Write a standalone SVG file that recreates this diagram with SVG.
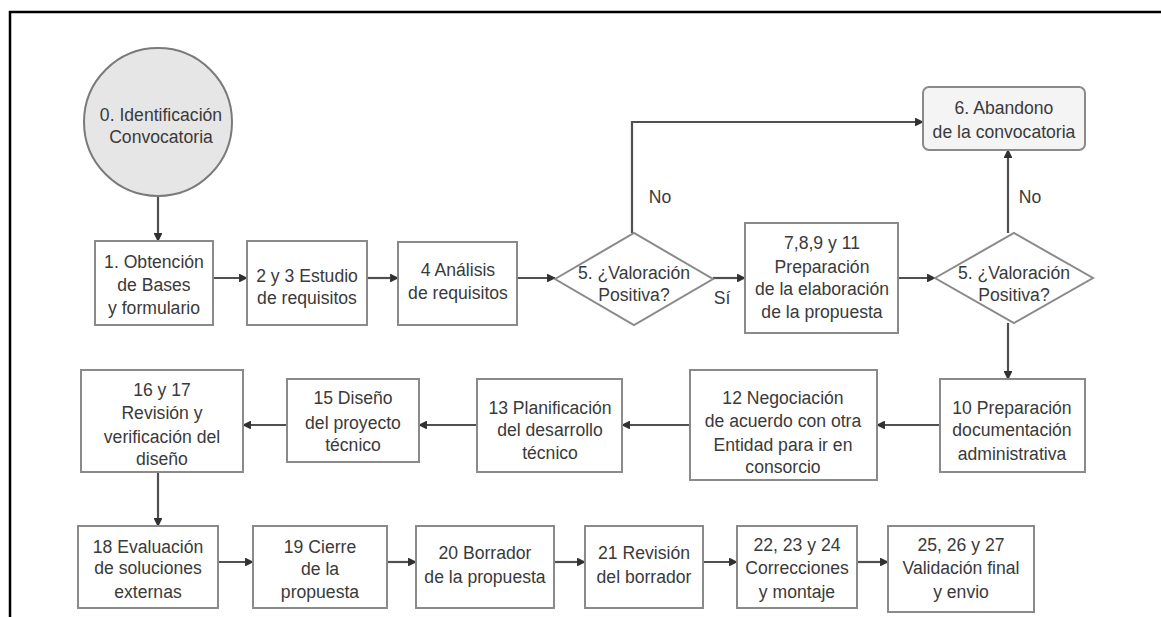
<svg xmlns="http://www.w3.org/2000/svg" width="1161" height="617" viewBox="0 0 1161 617">
<style>
.bx{fill:#fff;stroke:#8a8a8a;stroke-width:2}
.ln{fill:none;stroke:#505050;stroke-width:2.2}
text{font-family:"Liberation Sans",Arial,sans-serif;font-size:17.6px;fill:#3a3a3a;text-anchor:middle}
</style>
<defs>
<marker id="ah" viewBox="0 0 10 10" refX="9" refY="5" markerWidth="4" markerHeight="4" orient="auto" markerUnits="strokeWidth">
<path d="M0,0 L10,5 L0,10 z" fill="#303030"/>
</marker>
</defs>
<rect width="1161" height="617" fill="#fff"/>
<path d="M10,617 V12 H1161" fill="none" stroke="#000" stroke-width="2.5"/>

<g id="connectors">
<path class="ln" d="M158,197 V241" marker-end="url(#ah)"/>
<path class="ln" d="M213,278 H247" marker-end="url(#ah)"/>
<path class="ln" d="M367,278 H398" marker-end="url(#ah)"/>
<path class="ln" d="M517,278 H555" marker-end="url(#ah)"/>
<path class="ln" d="M632,233 V122 H923" marker-end="url(#ah)"/>
<path class="ln" d="M713,278 H745" marker-end="url(#ah)"/>
<path class="ln" d="M898,278 H935" marker-end="url(#ah)"/>
<path class="ln" d="M1008,233 V150" marker-end="url(#ah)"/>
<path class="ln" d="M1008,323 V379" marker-end="url(#ah)"/>
<path class="ln" d="M940,425 H877" marker-end="url(#ah)"/>
<path class="ln" d="M690,425 H622" marker-end="url(#ah)"/>
<path class="ln" d="M477,425 H419" marker-end="url(#ah)"/>
<path class="ln" d="M287,425 H243" marker-end="url(#ah)"/>
<path class="ln" d="M158,472 V526" marker-end="url(#ah)"/>
<path class="ln" d="M218,562 H253" marker-end="url(#ah)"/>
<path class="ln" d="M387,562 H416" marker-end="url(#ah)"/>
<path class="ln" d="M554,562 H585" marker-end="url(#ah)"/>
<path class="ln" d="M703,562 H737" marker-end="url(#ah)"/>
<path class="ln" d="M857,562 H888" marker-end="url(#ah)"/>
<text x="660" y="203">No</text>
<text x="722" y="304">Sí</text>
<text x="1030" y="203">No</text>
</g>

<g id="n0">
<circle cx="158" cy="122" r="74" fill="#e6e6e6" stroke="#7a7a7a" stroke-width="2"/>
<text x="161" y="121">0. Identificación</text>
<text x="161" y="143">Convocatoria</text>
</g>
<g id="n1">
<rect class="bx" x="95" y="241" width="118" height="84"/>
<text x="154" y="268">1. Obtención</text>
<text x="154" y="291">de Bases</text>
<text x="154" y="314">y formulario</text>
</g>
<g id="n2">
<rect class="bx" x="247" y="241" width="120" height="84"/>
<text x="307" y="282">2 y 3 Estudio</text>
<text x="307" y="304">de requisitos</text>
</g>
<g id="n4">
<rect class="bx" x="398" y="242" width="119" height="83"/>
<text x="458" y="276">4 Análisis</text>
<text x="458" y="299">de requisitos</text>
</g>
<g id="n5a">
<polygon class="bx" points="555,279 634,233 713,279 634,325"/>
<text x="634" y="279">5. ¿Valoración</text>
<text x="634" y="301">Positiva?</text>
</g>
<g id="n6">
<rect x="923" y="87" width="162" height="63" rx="6" fill="#f4f4f4" stroke="#8a8a8a" stroke-width="2"/>
<text x="1004" y="114">6. Abandono</text>
<text x="1004" y="138">de la convocatoria</text>
</g>
<g id="n7">
<rect class="bx" x="745" y="223" width="153" height="110"/>
<text x="822" y="249">7,8,9 y 11</text>
<text x="822" y="273">Preparación</text>
<text x="822" y="295">de la elaboración</text>
<text x="822" y="318">de la propuesta</text>
</g>
<g id="n5b">
<polygon class="bx" points="935,278 1014,233 1093,278 1014,323"/>
<text x="1014" y="279">5. ¿Valoración</text>
<text x="1014" y="301">Positiva?</text>
</g>
<g id="n10">
<rect class="bx" x="940" y="379" width="145" height="93"/>
<text x="1012" y="414">10 Preparación</text>
<text x="1012" y="436">documentación</text>
<text x="1012" y="460">administrativa</text>
</g>
<g id="n12">
<rect class="bx" x="690" y="370" width="187" height="110"/>
<text x="783" y="404">12 Negociación</text>
<text x="783" y="427">de acuerdo con otra</text>
<text x="783" y="451">Entidad para ir en</text>
<text x="783" y="473">consorcio</text>
</g>
<g id="n13">
<rect class="bx" x="477" y="379" width="145" height="93"/>
<text x="550" y="414">13 Planificación</text>
<text x="550" y="436">del desarrollo</text>
<text x="550" y="459">técnico</text>
</g>
<g id="n15">
<rect class="bx" x="287" y="379" width="132" height="83"/>
<text x="353" y="404">15 Diseño</text>
<text x="353" y="429">del proyecto</text>
<text x="353" y="451">técnico</text>
</g>
<g id="n16">
<rect class="bx" x="81" y="370" width="162" height="102"/>
<text x="162" y="396">16 y 17</text>
<text x="162" y="419">Revisión y</text>
<text x="162" y="443">verificación del</text>
<text x="162" y="465">diseño</text>
</g>
<g id="n18">
<rect class="bx" x="78" y="526" width="140" height="82"/>
<text x="148" y="553">18 Evaluación</text>
<text x="148" y="574">de soluciones</text>
<text x="148" y="598">externas</text>
</g>
<g id="n19">
<rect class="bx" x="253" y="526" width="134" height="82"/>
<text x="320" y="553">19 Cierre</text>
<text x="320" y="575">de la</text>
<text x="320" y="598">propuesta</text>
</g>
<g id="n20">
<rect class="bx" x="416" y="526" width="138" height="82"/>
<text x="485" y="559">20 Borrador</text>
<text x="485" y="583">de la propuesta</text>
</g>
<g id="n21">
<rect class="bx" x="585" y="526" width="118" height="82"/>
<text x="644" y="559">21 Revisión</text>
<text x="644" y="583">del borrador</text>
</g>
<g id="n22">
<rect class="bx" x="737" y="526" width="120" height="82"/>
<text x="797" y="551">22, 23 y 24</text>
<text x="797" y="574">Correcciones</text>
<text x="797" y="598">y montaje</text>
</g>
<g id="n25">
<rect class="bx" x="888" y="526" width="146" height="86"/>
<text x="961" y="551">25, 26 y 27</text>
<text x="961" y="574">Validación final</text>
<text x="961" y="598">y envio</text>
</g>
</svg>
